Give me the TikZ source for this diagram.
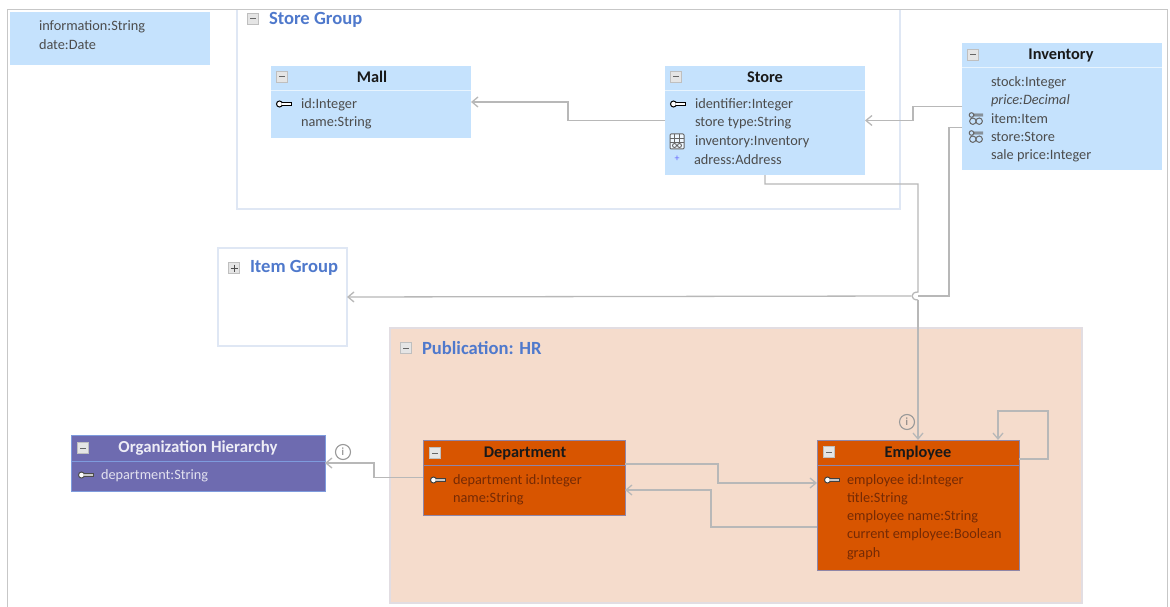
\documentclass[tikz,border=0pt]{standalone}
\usepackage{fontspec}
\setmainfont{Carlito}
\usetikzlibrary{arrows.meta,calc}
\definecolor{boxblue}{HTML}{C5E2FD}
\definecolor{pubfill}{HTML}{F5DCCC}
\definecolor{grpline}{HTML}{DFE7F4}
\definecolor{publine}{HTML}{E2DDE2}
\definecolor{grptitle}{HTML}{4F79CC}
\definecolor{conn}{HTML}{B8B8B8}
\definecolor{orange}{HTML}{D85500}
\definecolor{orangeline}{HTML}{8F86A8}
\definecolor{orangetext}{HTML}{752A05}
\definecolor{purple}{HTML}{6E6BB0}
\definecolor{purpleline}{HTML}{7E9BDD}
\tikzset{
 every node/.style={inner sep=0pt,outer sep=0pt},
 blueent/.style={fill=boxblue,draw=none,rectangle,anchor=north west},
 orangeent/.style={fill=orange,draw=orangeline,line width=1pt,rectangle,anchor=north west},
 purpleent/.style={fill=purple,draw=purpleline,line width=1pt,rectangle,anchor=north west},
 grp/.style={draw=grpline,line width=1.3pt,rectangle,anchor=north west},
 grplabel/.style={anchor=west,font=\fontsize{18.6}{20}\selectfont\bfseries,text=grptitle},
 enttitle/.style={anchor=center,font=\fontsize{16.3}{18}\selectfont\bfseries,text=black!90},
 attr/.style={anchor=west,font=\fontsize{14.3}{16}\selectfont,text=black!70},
 attrdark/.style={anchor=west,font=\fontsize{14.3}{16}\selectfont,text=orangetext},
 attrlight/.style={anchor=west,font=\fontsize{14.3}{16}\selectfont,text=white!80!purple},
 conline/.style={draw=conn,line width=1.3pt},
 conarrow/.style={conline,-{Straight Barb[length=6pt,width=10pt,line width=1.3pt]}},
 togglebox/.style={rectangle,draw=black!25,fill=black!10,minimum width=11pt,minimum height=11pt,line width=.8pt},
 infomark/.style={circle,draw=black!40,line width=1.1pt,minimum size=15pt,font=\fontsize{11}{11}\selectfont,text=black!55},
 keyicon/.pic={
   \draw[line width=1pt,draw=#1,fill=white] (-4.5,0) circle (3pt);
   \fill[#1] (-2,-1.9) rectangle (8,1.9);
   \fill[white!70!#1] (-2,-.8) rectangle (7,.8);
 },
 keyicon/.default=black!50,
 linkicon/.pic={
   \draw[line width=1pt,draw=black!60] (-4.5,0) circle (2.3pt) (-2.2,-.9) -- (7,-.9) (-2.2,.9) -- (7,.9);
   \draw[line width=1pt,draw=black!60] (-3.2,6.2) circle (3.2pt) (3.2,6.2) circle (3.2pt);
 },
 tableicon/.pic={
   \draw[line width=1pt,draw=black!60,fill=white!75!boxblue,rounded corners=1pt] (-7,-7) rectangle (7,8);
   \draw[line width=.9pt,draw=black!60] (-7,-3) -- (7,-3) (-7,1) -- (7,1) (-2.5,-7) -- (-2.5,1) (2.5,-7) -- (2.5,1);
   \draw[line width=.9pt,draw=black!60] (-2.5,4.5) circle (2pt) (2.5,4.5) circle (2pt);
 },
}
\newcommand{\minusbox}[2]{\node[togglebox] (#1) at (#2) {}; \draw[black!60,line width=1pt] ($(#1)+(-3,0)$) -- ($(#1)+(3,0)$);}
\newcommand{\plusbox}[2]{\node[togglebox] (#1) at (#2) {}; \draw[black!70,line width=1pt] ($(#1)+(-3.5,0)$) -- ($(#1)+(3.5,0)$) ($(#1)+(0,-3.5)$) -- ($(#1)+(0,3.5)$);}
\begin{document}
\begin{tikzpicture}[x=1pt,y=-1pt]
\useasboundingbox (0,0) rectangle (1170,607);
% window frame
\fill[white] (0,0) rectangle (1170,607);
\draw[black!22,line width=1.2pt] (7.5,607) -- (7.5,9.5) -- (1167.5,9.5) -- (1167.5,607);
% groups
\draw[grpline,line width=1.3pt] (237,10) -- (237,209) -- (900,209) -- (900,10);
\node[grp,minimum width=129pt,minimum height=98pt] (itemgroup) at (218,248) {};
\node[grp,draw=publine,fill=pubfill,minimum width=692pt,minimum height=275pt] (pubgroup) at (390,328) {};
\minusbox{sgtoggle}{253,19}
\node[grplabel] (sglabel) at (269,19.5) {Store Group};
\plusbox{igtoggle}{234,268}
\node[grplabel] (iglabel) at (250,267.5) {Item Group};
\minusbox{pgtoggle}{406,348}
\node[grplabel] (pglabel) at (422,348.5) {Publication: HR};
% top-left fragment
\node[blueent,minimum width=200pt,minimum height=53pt] (fragment) at (10,12) {};
\node[attr] (fa) at (39,26.5) {information:String};
\node[attr] (fb) at (39,44.5) {date:Date};
% Mall
\node[blueent,minimum width=200pt,minimum height=72pt] (mall) at (271,66) {};
\draw[white!60!boxblue,line width=1pt] (271,90.5) -- (471,90.5);
\minusbox{malltoggle}{282,77}
\node[enttitle] (malltitle) at (372,77) {Mall};
\pic at (284,104) {keyicon};
\node[attr] (ma) at (301,104.5) {id:Integer};
\node[attr] (mb) at (301,122.5) {name:String};
% Store
\node[blueent,minimum width=200pt,minimum height=109pt] (store) at (665,66) {};
\draw[white!60!boxblue,line width=1pt] (665,90.5) -- (865,90.5);
\minusbox{storetoggle}{676,77}
\node[enttitle] (storetitle) at (765,77) {Store};
\pic at (678,104) {keyicon};
\node[attr] (sa) at (695,104.5) {identifier:Integer};
\node[attr] (sb) at (695,122.5) {store type:String};
\pic at (677,141) {tableicon};
\node[attr] (sc) at (695,141.5) {inventory:Inventory};
\node[anchor=center,font=\fontsize{10}{10}\selectfont,text=blue!60] (sdmark) at (677,159) {+};
\node[attr] (sd) at (694,159.5) {adress:Address};
% Inventory
\node[blueent,minimum width=200pt,minimum height=127pt] (inventory) at (962,43) {};
\draw[white!60!boxblue,line width=1pt] (962,67.5) -- (1162,67.5);
\minusbox{invtoggle}{973,55}
\node[enttitle] (invtitle) at (1061,55) {Inventory};
\node[attr] (ia) at (991,82.5) {stock:Integer};
\node[attr,font=\fontsize{14.3}{16}\selectfont\itshape] (ib) at (991,100.5) {price:Decimal};
\pic at (976,115) {linkicon};
\node[attr] (ic) at (991,118.5) {item:Item};
\pic at (976,133) {linkicon};
\node[attr] (id) at (991,136.5) {store:Store};
\node[attr] (ie) at (991,155.5) {sale price:Integer};
% Organization Hierarchy
\node[purpleent,minimum width=254pt,minimum height=56pt] (org) at (71,435) {};
\draw[purpleline,line width=1pt] (71,461.5) -- (325,461.5);
\minusbox{orgtoggle}{83,448}
\node[enttitle,text=white!88!purple,font=\fontsize{16.8}{18}\selectfont\bfseries] (orgtitle) at (198,448) {Organization Hierarchy};
\pic at (86,475) {keyicon=black!70};
\node[attrlight] (oa) at (101,475.5) {department:String};
% Department
\node[orangeent,minimum width=202pt,minimum height=75pt] (dept) at (423,440) {};
\draw[orangeline,line width=1pt] (423,465.5) -- (625,465.5);
\minusbox{depttoggle}{435,453}
\node[enttitle] (depttitle) at (525,453) {Department};
\pic at (438,480) {keyicon=black!75};
\node[attrdark] (da) at (453,480.5) {department id:Integer};
\node[attrdark] (db) at (453,498.5) {name:String};
% Employee
\node[orangeent,minimum width=202pt,minimum height=130pt] (emp) at (817,440) {};
\draw[orangeline,line width=1pt] (817,465.5) -- (1019,465.5);
\minusbox{emptoggle}{829,452}
\node[enttitle] (emptitle) at (918,453) {Employee};
\pic at (832,480) {keyicon=black!75};
\node[attrdark] (ea) at (847,480.5) {employee id:Integer};
\node[attrdark] (eb) at (847,498.5) {title:String};
\node[attrdark] (ec) at (847,517) {employee name:String};
\node[attrdark] (ed) at (847,535) {current employee:Boolean};
\node[attrdark] (ee) at (847,553.5) {graph};
% info marks
\node[infomark] (info1) at (343,452) {i};
\node[infomark] (info2) at (907,422) {i};
% connectors
\draw[conarrow] (store.west) -- ++(-97,0) |- (mall.east);
\draw[conarrow] (inventory.west) -- ++(-49,0) |- (store.east);
\coordinate (hopa) at (918,292);
\coordinate (hopb) at (918,300);
\coordinate (hleft) at (911,296);
\coordinate (hright) at (918,296);
\draw[conline] (store.south) -- ++(0,9) -| (hopa) .. controls (910,292) and (910,300) .. (hopb);
\draw[conarrow] (hopb) -- (emp.north);
\draw[conline] ($(inventory.west)+(0,21)$) -- ++(-13,0) |- (hright);
\draw[conarrow] (hleft) -- (itemgroup.east);
\draw[conarrow] (dept.west) -- ++(-49,0) |- (org.east);
\draw[conarrow] ($(dept.east)+(0,-13.5)$) -- ++(93,0) |- ($(emp.west)+(0,-22)$);
\draw[conarrow] ($(emp.west)+(0,22)$) -- ++(-106,0) |- ($(dept.east)+(0,12.5)$);
\draw[conarrow] ($(emp.east)+(0,-46)$) -- ++(29,0) |- (998,411) -- (998,440);
\end{tikzpicture}
\end{document}
